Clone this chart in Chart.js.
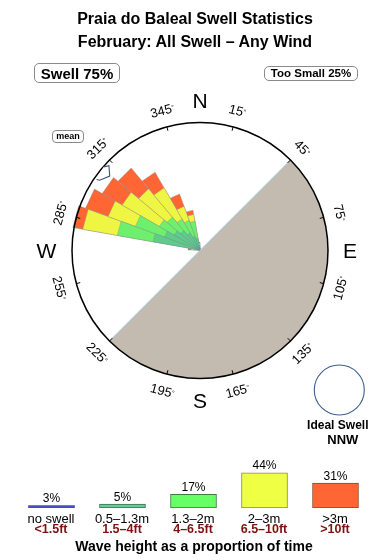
<!DOCTYPE html>
<html><head><meta charset="utf-8">
<script src="https://cdn.jsdelivr.net/npm/chart.js@4/dist/chart.umd.min.js"></script>
<style>
html,body{margin:0;padding:0;background:#fff;}
body{width:390px;height:560px;position:relative;overflow:hidden;font-family:"Liberation Sans",Arial,Helvetica,sans-serif;color:#000;}
canvas{position:absolute;left:0;}
.t{position:absolute;line-height:1;white-space:nowrap;text-align:center;}
.box{position:absolute;box-sizing:border-box;border:1px solid #8a8a8a;border-radius:5px;background:#fff;}
.red{color:#7f1111;font-weight:bold;font-size:12.5px;}
.blk{font-size:13px;}
</style></head><body>
<canvas id="rose" width="390" height="560" style="top:0"></canvas>
<canvas id="bars" width="390" height="120" style="top:440px"></canvas>

<div class="t" style="left:0;width:390px;top:11px;font-size:16px;font-weight:bold">Praia do Baleal Swell Statistics</div>
<div class="t" style="left:0;width:390px;top:34.2px;font-size:16px;font-weight:bold">February: All Swell – Any Wind</div>

<div class="box" style="left:34px;top:63px;width:86px;height:20px"></div>
<div class="t" style="left:34px;width:86px;top:66.2px;font-size:15px;font-weight:bold">Swell 75%</div>
<div class="box" style="left:264px;top:66px;width:94px;height:15px"></div>
<div class="t" style="left:264px;width:94px;top:68.3px;font-size:11.5px;font-weight:bold">Too Small 25%</div>
<div class="box" style="left:52px;top:130px;width:32px;height:13px;border-radius:4px"></div>
<div class="t" style="left:52px;width:32px;top:132.1px;font-size:9px;font-weight:bold">mean</div>

<div class="t" style="left:287.8px;width:100px;top:418.8px;font-size:12px;font-weight:bold">Ideal Swell</div>
<div class="t" style="left:292.8px;width:100px;top:433px;font-size:13px;font-weight:bold">NNW</div>

<div class="t blk" style="left:11px;width:80px;top:511.7px">no swell</div>
<div class="t blk" style="left:82px;width:80px;top:511.7px">0.5–1.3m</div>
<div class="t blk" style="left:153px;width:80px;top:511.7px">1.3–2m</div>
<div class="t blk" style="left:224px;width:80px;top:511.7px">2–3m</div>
<div class="t blk" style="left:295px;width:80px;top:511.7px">&gt;3m</div>
<div class="t red" style="left:11px;width:80px;top:523.4px">&lt;1.5ft</div>
<div class="t red" style="left:82px;width:80px;top:523.4px">1.5–4ft</div>
<div class="t red" style="left:153px;width:80px;top:523.4px">4–6.5ft</div>
<div class="t red" style="left:224px;width:80px;top:523.4px">6.5–10ft</div>
<div class="t red" style="left:295px;width:80px;top:523.4px">&gt;10ft</div>
<div class="t" style="left:0;width:388px;top:538.9px;font-size:14px;font-weight:bold">Wave height as a proportion of time</div>

<script>
// ---------- data ----------
const directions = [275, 285, 295, 305, 315, 325, 335, 345, 355];   // sector centres (deg)
const pct_05_13m = [0.01, 3.2, 2.0, 1.25, 0.9, 0.55, 0.3, 0.2, 0.01];   // % of time 0.5-1.3m
const pct_13_2m  = [0.04, 6.7, 4.65, 1.85, 1.7, 1.25, 1.1, 1.0, 0.02];  // 1.3-2m
const pct_2_3m   = [0.06, 10.0, 6.8, 8.25, 6.4, 5.45, 1.65, 0.65, 0.04]; // 2-3m
const pct_3m_up  = [0.09, 3.5, 7.4, 6.55, 7.1, 4.1, 1.95, 0.45, 0.02];  // >3m
const ringPct = 23;            // cumulative % reached at the outer ring (area scaled)
const sectorWidth = 10;
const meanDirection = 309;
const landFrom = 45, landTo = 225;
const compassLetters = ['N', 'E', 'S', 'W'];
const compassBearings = [0, 90, 180, 270];
const degreeTicks = [15, 45, 75, 105, 135, 165, 195, 225, 255, 285, 315, 345];

const legendLabels = ['no swell', '0.5–1.3m', '1.3–2m', '2–3m', '>3m'];
const legendValues = [3, 5, 17, 44, 31];

// ---------- colours ----------
const wedgeColors = ['#5fcc8c', '#6ef06e', '#eef542', '#ff6633'];
const barFill = ['#4b4bc0', '#66cc99', '#66ff66', '#eeff44', '#ff6633'];
const barBorder = ['#4b4bc0', '#3c6e4c', '#3a7a3a', '#8c8c3c', '#8c4a30'];

// ---------- rose ----------
const nSectors = 360 / sectorWidth;
const sectorLabels = [];
for (let i = 0; i < nSectors; i++) sectorLabels.push(String(i * sectorWidth));
const layers = [pct_05_13m, pct_13_2m, pct_2_3m, pct_3m_up];
const datasets = layers.map((_, k) => {
  const data = new Array(nSectors).fill(0);
  directions.forEach((d, j) => {
    let cum = 0;
    for (let c = 0; c <= k; c++) cum += layers[c][j];
    data[Math.round((d - sectorWidth / 2) / sectorWidth)] = Math.sqrt(cum);
  });
  return {
    data, backgroundColor: wedgeColors[k],
    borderColor: 'rgba(120,130,150,0.55)', borderWidth: 0.6
  };
});

const DEG = Math.PI / 180;
function pt(cx, cy, r, b) { return [cx + r * Math.sin(b * DEG), cy - r * Math.cos(b * DEG)]; }
const FONT = '"Liberation Sans", Arial, Helvetica, sans-serif';

const roseDecor = {
  id: 'roseDecor',
  afterDatasetsDraw(chart) {
    const s = chart.scales.r, ctx = chart.ctx;
    const cx = s.xCenter, cy = s.yCenter + 0.5, R = s.drawingArea;
    ctx.save();
    // land
    ctx.beginPath(); ctx.moveTo(cx, cy);
    ctx.arc(cx, cy, R, (landFrom - 90) * DEG, (landTo - 90) * DEG, false);
    ctx.closePath(); ctx.fillStyle = '#c4bbb0'; ctx.fill();
    const a = pt(cx, cy, R, landFrom), b = pt(cx, cy, R, landTo);
    ctx.beginPath(); ctx.moveTo(a[0], a[1]); ctx.lineTo(b[0], b[1]);
    ctx.strokeStyle = '#a9c8e6'; ctx.lineWidth = 1; ctx.stroke();
    // ring
    ctx.beginPath(); ctx.arc(cx, cy, R, 0, 2 * Math.PI);
    ctx.strokeStyle = '#000'; ctx.lineWidth = 1.5; ctx.stroke();
    // ticks + degree labels
    ctx.lineWidth = 1;
    degreeTicks.forEach(d => {
      const p1 = pt(cx, cy, R - 4, d), p2 = pt(cx, cy, R, d);
      ctx.beginPath(); ctx.moveTo(p1[0], p1[1]); ctx.lineTo(p2[0], p2[1]); ctx.stroke();
      const p = pt(cx, cy, 145, d);
      const rot = (((d + 90) % 180) - 90) * DEG;
      ctx.save(); ctx.translate(p[0], p[1]); ctx.rotate(rot);
      ctx.font = '13px ' + FONT; const w1 = ctx.measureText(String(d)).width;
      ctx.font = '7px ' + FONT; const w2 = ctx.measureText('°').width;
      const x0 = -(w1 + w2) / 2;
      ctx.fillStyle = '#000'; ctx.textAlign = 'left'; ctx.textBaseline = 'alphabetic';
      ctx.font = '13px ' + FONT; ctx.fillText(String(d), x0, 4.6);
      ctx.font = '7px ' + FONT; ctx.fillText('°', x0 + w1, 2);
      ctx.restore();
    });
    // compass letters
    ctx.font = '21px ' + FONT; ctx.textAlign = 'center'; ctx.textBaseline = 'alphabetic'; ctx.fillStyle = '#000';
    compassLetters.forEach((L, i) => {
      const p = pt(cx, cy, L === 'W' ? 153.5 : 150, compassBearings[i]);
      ctx.fillText(L, p[0], p[1] + 7.5);
    });
    // mean arrow
    const m = meanDirection;
    const poly = [pt(cx, cy, 127.5, m + 2), pt(cx, cy, 124.5, m + 4), pt(cx, cy, 117, m + 0.5),
                  pt(cx, cy, 122.5, m - 4), pt(cx, cy, 125.5, m - 4.5)];
    ctx.beginPath(); ctx.moveTo(poly[0][0], poly[0][1]);
    for (let i = 1; i < poly.length; i++) ctx.lineTo(poly[i][0], poly[i][1]);
    ctx.fillStyle = '#fff'; ctx.fill();
    ctx.strokeStyle = '#3d5570'; ctx.lineWidth = 1.1; ctx.stroke();
    // ideal swell circle
    ctx.beginPath(); ctx.arc(339.3, 390, 25, 0, 2 * Math.PI);
    ctx.strokeStyle = '#3e5f8a'; ctx.lineWidth = 1.1; ctx.stroke();
    ctx.restore();
  }
};

new Chart(document.getElementById('rose'), {
  type: 'polarArea',
  data: { labels: sectorLabels, datasets },
  options: {
    responsive: false, animation: false, events: [],
    layout: { padding: { left: 72, right: 62, top: 122, bottom: 182 } },
    startAngle: 0,
    elements: { arc: { circular: false } },
    scales: { r: { display: false, min: 0, max: Math.sqrt(ringPct) } },
    plugins: { legend: { display: false }, tooltip: { enabled: false } }
  },
  plugins: [roseDecor]
});

// ---------- legend bars ----------
const barLabelsPlugin = {
  id: 'barLabels',
  afterDatasetsDraw(chart) {
    const ctx = chart.ctx, meta = chart.getDatasetMeta(0);
    ctx.save();
    ctx.font = '12px ' + FONT; ctx.fillStyle = '#000'; ctx.textAlign = 'center'; ctx.textBaseline = 'alphabetic';
    meta.data.forEach((bar, i) => ctx.fillText(legendValues[i] + '%', bar.x, bar.y - 3.4));
    ctx.restore();
  }
};
new Chart(document.getElementById('bars'), {
  type: 'bar',
  data: { labels: legendLabels, datasets: [{
    data: legendValues, backgroundColor: barFill, borderColor: barBorder,
    borderWidth: [0, 1, 1, 1, 1], borderSkipped: false, barThickness: 46
  }]},
  options: {
    responsive: false, animation: false, events: [],
    layout: { padding: { left: 16, right: 19, top: 28, bottom: 52 } },
    scales: { x: { display: false }, y: { display: false, min: 0, max: 50 } },
    plugins: { legend: { display: false }, tooltip: { enabled: false } }
  },
  plugins: [barLabelsPlugin]
});
</script>
</body></html>
